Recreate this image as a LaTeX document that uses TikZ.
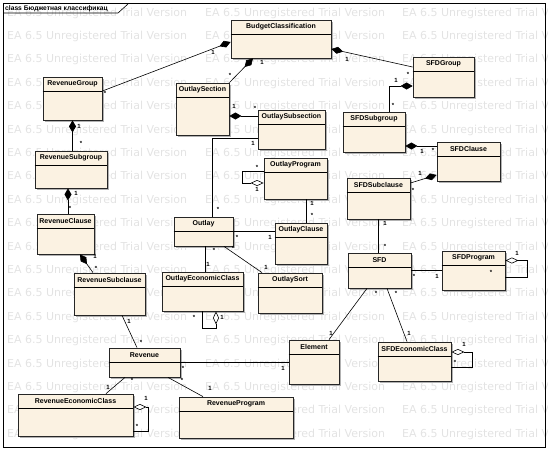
\documentclass[tikz,border=0pt]{standalone}
\usepackage{fontspec}
\setmainfont{Liberation Sans}
\newfontfamily\wmfont{DejaVu Sans}
\usetikzlibrary{
  arrows.meta,
  shadows
}
\definecolor{clsfill}{RGB}{251,242,226}

\begin{document}
\begin{tikzpicture}[
  x=1pt, y=-1pt,
  %% ── node styles ────────────────────────────────────────────────────
  %% Class boxes (size given per node)
  C/.style  ={rectangle, draw=black!85, line width=0.8pt, fill=clsfill,
               inner sep=0pt,
               drop shadow={shadow xshift=2pt, shadow yshift=-2pt,
                            fill=gray!60, opacity=1}},
  %% Class names in the header
  T/.style  ={font=\fontsize{7}{8}\selectfont\bfseries, inner sep=0pt},
  %% Multiplicities
  M/.style  ={font=\fontsize{6}{6}\selectfont\bfseries, inner sep=0pt},
  %% Watermark text
  WM/.style ={font=\wmfont\fontsize{11}{12}\selectfont, text=gray!22,
               anchor=west, inner sep=0pt},
  %% Connectors
  assoc/.style={line width=0.6pt},
  comp/.style ={{Diamond[length=12pt,width=7pt]}-, line width=0.6pt},
  aggr/.style ={{Diamond[open,fill=white,length=13pt,width=6pt]}-, line width=0.6pt},
]
\useasboundingbox (0,0) rectangle (548,450);

%% ════════════════════════════════════════════════════════════════════
%% BACKGROUND  (watermark rows, frame, tab)
%% ════════════════════════════════════════════════════════════════════
\foreach \r in {0,...,18}
  \foreach \c in {7,205,402}
    \node[WM] (wm-\r-\c) at (\c,{13+23.4*\r}) {EA 6.5 Unregistered Trial Version};

\draw[line width=0.8pt] (3,3) rectangle (545,447);
\draw[line width=0.6pt] (3,13) -- (118,13) -- (128,4);
\node[anchor=west, inner sep=0pt, font=\fontsize{6.7}{7}\selectfont\bfseries]
  (frametitle) at (5,8.5) {class Бюджетная классификац};

%% ════════════════════════════════════════════════════════════════════
%% CLASSES
%% ════════════════════════════════════════════════════════════════════

%% Top — root
\node[C, minimum width=100pt, minimum height=38pt] (budget)       at (281,39)      {};

%% Revenue branch (left column)
\node[C, minimum width=59pt,  minimum height=43pt] (revgroup)     at (72.5,98.5)   {};
\node[C, minimum width=72pt,  minimum height=37pt] (revsubgroup)  at (71,169.5)    {};
\node[C, minimum width=57pt,  minimum height=40pt] (revclause)    at (65.5,234)    {};
\node[C, minimum width=71pt,  minimum height=42pt] (revsubclause) at (109.5,294)   {};
\node[C, minimum width=71pt,  minimum height=29pt] (revenue)      at (144.5,362.5) {};
\node[C, minimum width=115pt, minimum height=42pt] (revecon)      at (75.5,415)    {};
\node[C, minimum width=114pt, minimum height=41pt] (revprog)      at (236,417.5)   {};

%% Outlay branch (middle)
\node[C, minimum width=53pt,  minimum height=52pt] (outsec)       at (202.5,109)   {};
\node[C, minimum width=67pt,  minimum height=39pt] (outsubsec)    at (291.5,129.5) {};
\node[C, minimum width=63pt,  minimum height=41pt] (outprog)      at (295.5,178.5) {};
\node[C, minimum width=52pt,  minimum height=41pt] (outclause)    at (301,243.5)   {};
\node[C, minimum width=59pt,  minimum height=29pt] (outlay)       at (203.5,231.5) {};
\node[C, minimum width=81pt,  minimum height=39pt] (outecon)      at (202.5,291.5) {};
\node[C, minimum width=64pt,  minimum height=40pt] (outsort)      at (290,293)     {};
\node[C, minimum width=50pt,  minimum height=44pt] (element)      at (314,362)     {};

%% SFD branch (right column)
\node[C, minimum width=61pt,  minimum height=40pt] (sfdgroup)     at (443.5,77)    {};
\node[C, minimum width=62pt,  minimum height=40pt] (sfdsubgroup)  at (374,132)     {};
\node[C, minimum width=63pt,  minimum height=39pt] (sfdclause)    at (468.5,161.5) {};
\node[C, minimum width=63pt,  minimum height=41pt] (sfdsubclause) at (378.5,198.5) {};
\node[C, minimum width=63pt,  minimum height=35pt] (sfd)          at (379.5,270.5) {};
\node[C, minimum width=63pt,  minimum height=39pt] (sfdprog)      at (473.5,270.5) {};
\node[C, minimum width=73pt,  minimum height=39pt] (sfdecon)      at (414.5,361.5) {};

%% Header line + class name for every box
\foreach \n/\t in {budget/BudgetClassification, revgroup/RevenueGroup,
                   revsubgroup/RevenueSubgroup, revclause/RevenueClause,
                   revsubclause/RevenueSubclause, revenue/Revenue,
                   revecon/RevenueEconomicClass, revprog/RevenueProgram,
                   outsec/OutlaySection, outsubsec/OutlaySubsection,
                   outprog/OutlayProgram, outclause/OutlayClause,
                   outlay/Outlay, outecon/OutlayEconomicClass,
                   outsort/OutlaySort, element/Element,
                   sfdgroup/SFDGroup, sfdsubgroup/SFDSubgroup,
                   sfdclause/SFDClause, sfdsubclause/SFDSubclause,
                   sfd/SFD, sfdprog/SFDProgram, sfdecon/SFDEconomicClass}
{
  \draw[line width=0.8pt] ([yshift=-15pt]\n.north west) -- ([yshift=-15pt]\n.north east);
  \node[T] (\n-t) at ([yshift=-7.5pt]\n.north) {\t};
}

%% ════════════════════════════════════════════════════════════════════
%% CONNECTORS
%% ════════════════════════════════════════════════════════════════════

%% Compositions (filled diamond at the whole)
\draw[comp] ([yshift=-3pt]budget.west)        -- ([yshift=7.5pt]revgroup.east);
\draw[comp] ([xshift=-28pt]budget.south)      -- (outsec.north east);
\draw[comp] ([yshift=-10pt]budget.east)       -- ([yshift=10pt]sfdgroup.west);
\draw[comp] ([yshift=-9pt]sfdgroup.west)      -| ([xshift=15pt]sfdsubgroup.north);
\draw[comp] ([yshift=-14pt]sfdsubgroup.east)  -- ([yshift=15.5pt]sfdclause.west);
\draw[comp] ([yshift=-13.5pt]sfdclause.west)  -- ([yshift=15.5pt]sfdsubclause.east);
\draw[comp] (revgroup.south)                  -- (revgroup.south |- revsubgroup.north);
\draw[comp] ([xshift=-3pt]revsubgroup.south)  -- ([xshift=2.5pt]revclause.north);
\draw[comp] ([xshift=14.5pt]revclause.south)  -- ([xshift=-16.5pt]revsubclause.north);
\draw[comp] ([yshift=-7pt]outsec.east)        -- ([yshift=13.5pt]outsubsec.west);

%% Self aggregations (open diamond)
\draw[aggr] ([yshift=10pt]sfdprog.east)   -- ++(22,0) |- ([yshift=-6.5pt]sfdprog.east);
\draw[aggr] ([yshift=9.5pt]sfdecon.east)  -- ++(21,0) |- ([yshift=-5.5pt]sfdecon.east);
\draw[aggr] ([yshift=8pt]revecon.east)    -- ++(15,0) |- ([yshift=-16pt]revecon.east);
\draw[aggr] ([yshift=-4.5pt]outprog.west) -- ++(-21,0) |- ([yshift=7.5pt]outprog.west);
\draw[aggr] ([xshift=13.5pt]outecon.south) -- ++(0,17) -| ([xshift=-0.5pt]outecon.south);

%% Plain associations
\draw[assoc] (sfdsubclause.south)            -- (sfdsubclause.south |- sfd.north);
\draw[assoc] (sfd.east)                      -- (sfdprog.west);
\draw[assoc] ([xshift=-12.5pt]sfd.south)     -- ([xshift=15pt]element.north);
\draw[assoc] ([xshift=7.5pt]sfd.south)       -- ([xshift=-7.5pt]sfdecon.north);
\draw[assoc] (revenue.east)                  -- (revenue.east -| element.west);
\draw[assoc] ([xshift=-19.5pt]revenue.south) -- ([xshift=30.5pt]revecon.north);
\draw[assoc] ([xshift=23.5pt]revenue.south)  -- ([xshift=-33pt]revprog.north);
\draw[assoc] ([xshift=12.5pt]revsubclause.south) -- ([xshift=-7.5pt]revenue.north);
\draw[assoc] ([yshift=-8.5pt]outsubsec.west) -| ([xshift=8.5pt]outlay.north);
\draw[assoc] ([xshift=10.5pt]outprog.south)  -- ([xshift=5pt]outclause.north);
\draw[assoc] (outlay.east)                   -- (outlay.east -| outclause.west);
\draw[assoc] ([xshift=1.5pt]outlay.south)    -- ([xshift=2.5pt]outecon.north);
\draw[assoc] ([xshift=20.5pt]outlay.south)   -- ([xshift=-28pt]outsort.north);

%% Multiplicities
\foreach \x/\y/\t [count=\i] in {
    213/52/1, 105/93/*, 262/62/1, 230/75/*, 347/59/1, 408/74/*,
    396/80/1, 393/105/*, 422/151/1, 433/150/*, 420/173/1, 413/190/*,
    385/223/1, 385/246/*, 414/276/*, 437/276/1, 517/253/1, 491/272/*,
    376/293/*, 331/333/1, 396/293/*, 409/333/1, 464/344/1, 455/362/*,
    183/368/*, 283/368/1, 132/380/*, 108/387/1, 182/380/*, 210/388/1,
    146/398/1, 137/426/*, 129/321/1, 141/342/*, 95/256/1, 96/268/*,
    76/193/1, 70/208/*, 79/126/1, 81/143/*, 234/106/1, 255/108/*,
    253/143/1, 218/209/*, 257/167/*, 257/189/1, 312/203/1, 312/215/*,
    237/237/*, 270/237/1, 214/250/*, 208/264/1, 233/248/*, 266/267/1,
    194/317/*, 222/317/1}
  \node[M] (m\i) at (\x,\y) {\t};

\end{tikzpicture}
\end{document}
